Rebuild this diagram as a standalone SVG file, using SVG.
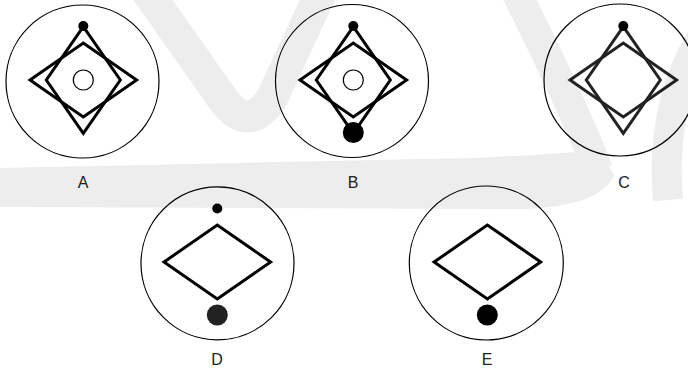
<svg xmlns="http://www.w3.org/2000/svg" xmlns:xlink="http://www.w3.org/1999/xlink" width="688" height="369" viewBox="0 0 688 369">
<style>
.wm{fill:#ededed;stroke:none}
.wms{fill:none;stroke:#ededed;stroke-linecap:butt;stroke-linejoin:round}
.ring{fill:none;stroke:#000;stroke-width:1.2}
.fig{fill:none;stroke:#000;stroke-width:3;stroke-linejoin:miter}
.figc{fill:none;stroke:#222;stroke-width:3;stroke-linejoin:miter}
.dot{fill:#000}
.lbl{font-family:"Liberation Sans",Arial,sans-serif;font-size:16px;fill:#222;text-anchor:middle}
</style>
<defs>
<path id="tall" d="M0,-53.3 L37,0 L0,53.3 L-37,0 Z"/>
<path id="wide" d="M-53.3,0 L0,-37 L53.3,0 L0,37 Z"/>
</defs>
<rect width="688" height="369" fill="#fff"/>
<g id="watermark">
<path class="wms" stroke-width="32" d="M146,-10 L222,98 Q248,135 272,98 L322,-10"/>
<path class="wms" stroke-width="30" d="M515,-10 Q575,110 598,170"/>
<path class="wm" d="M0,168 L470,158 Q560,154 600,150 L614,175 Q600,207 520,209 L0,207 Z"/>
<path class="wms" stroke-width="30" d="M700,40 Q660,110 668,200"/>
</g>
<g id="nodeA">
<circle class="ring" cx="82.5" cy="81.5" r="76.5"/>
<use href="#tall" xlink:href="#tall" class="fig" x="83.3" y="80"/>
<use href="#wide" xlink:href="#wide" class="fig" x="83.3" y="80"/>
<circle class="ring" cx="83.3" cy="80" r="10"/>
<circle class="dot" cx="83.3" cy="26" r="5"/>
<text class="lbl" x="83" y="187.5">A</text>
</g>
<g id="nodeB">
<circle class="ring" cx="352" cy="81" r="76.5"/>
<use href="#tall" xlink:href="#tall" class="fig" x="353.3" y="80"/>
<use href="#wide" xlink:href="#wide" class="fig" x="353.3" y="80"/>
<circle class="ring" cx="353.3" cy="80" r="10"/>
<circle class="dot" cx="353.3" cy="26" r="5"/>
<circle class="dot" cx="353.3" cy="132.5" r="10.5"/>
<text class="lbl" x="353" y="187.5">B</text>
</g>
<g id="nodeC">
<circle class="ring" cx="620" cy="80" r="76"/>
<use href="#tall" xlink:href="#tall" class="figc" x="623.3" y="80"/>
<use href="#wide" xlink:href="#wide" class="figc" x="623.3" y="80"/>
<circle class="dot" cx="623.3" cy="26" r="5"/>
<text class="lbl" x="624" y="187.5">C</text>
</g>
<g id="nodeD">
<circle class="ring" cx="217.5" cy="263.3" r="76.5"/>
<use href="#wide" xlink:href="#wide" class="fig" x="217.3" y="262"/>
<circle class="dot" cx="217.3" cy="208.5" r="5"/>
<circle cx="217.3" cy="315" r="10.5" fill="#222"/>
<text class="lbl" x="217" y="364.5">D</text>
</g>
<g id="nodeE">
<circle class="ring" cx="486.3" cy="263" r="77"/>
<use href="#wide" xlink:href="#wide" class="fig" x="487.4" y="262"/>
<circle class="dot" cx="487.3" cy="315" r="10.5"/>
<text class="lbl" x="487" y="364.5">E</text>
</g>
<g id="connectors"/>
</svg>
